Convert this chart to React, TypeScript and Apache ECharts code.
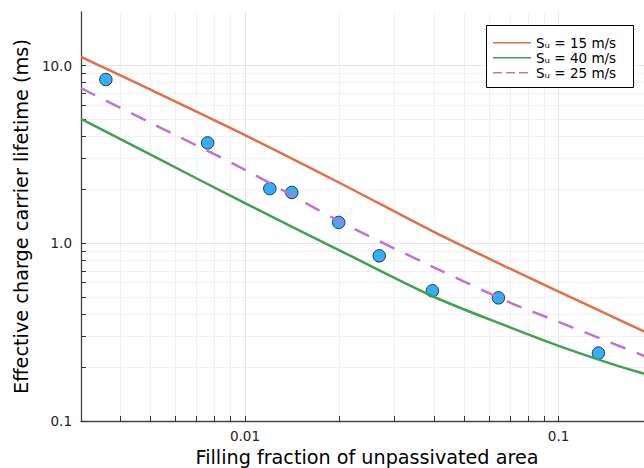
import React, { useEffect, useRef } from "react";
import * as echarts from "echarts";

// Measured samples (filling fraction, effective lifetime in ms)
const fillingFraction = [0.0036, 0.0076, 0.012, 0.0141, 0.0199, 0.0268, 0.0396, 0.0643, 0.134];
const lifetime = [8.34, 3.67, 2.03, 1.93, 1.31, 0.85, 0.54, 0.493, 0.241];

// Model curves, sampled along the filling fraction
const curveX = [0.003, 0.005, 0.01, 0.02, 0.04, 0.07, 0.1, 0.15, 0.19];
const su15 = [11.19, 7.31, 4.06, 2.19, 1.159, 0.72, 0.535, 0.383, 0.315];
const su40 = [5.01, 3.15, 1.68, 0.913, 0.5, 0.336, 0.2646, 0.2076, 0.1833];
const su25 = [7.45, 4.76, 2.59, 1.33, 0.732, 0.464, 0.361, 0.2715, 0.2303];

const seriesNames = ["Sᵤ = 15 m/s", "Sᵤ = 40 m/s", "Sᵤ = 25 m/s"];
const seriesColors = ["#E26F46", "#3DA44D", "#C271D2"];

// Axis ticks
const xMajorTicks = [0.01, 0.1];
const xMajorLabels = ["0.01", "0.1"];
const xMinorTicks = [0.004, 0.005, 0.006, 0.007, 0.008, 0.009, 0.02, 0.03, 0.04, 0.05, 0.06, 0.07, 0.08, 0.09];
const yMajorTicks = [0.1, 1, 10];
const yMajorLabels = ["0.1", "1.0", "10.0"];
const yMinorTicks = [0.2, 0.3, 0.4, 0.5, 0.6, 0.7, 0.8, 0.9, 2, 3, 4, 5, 6, 7, 8, 9];

const xRange = [0.003, 0.2];
const yRange = [0.1, 20];

const L = Math.log10;

function labelFor(ticks: number[], labels: string[]) {
  return (v: number) => {
    const i = ticks.findIndex((t) => Math.abs(L(t) - v) < 1e-6);
    return i >= 0 ? labels[i] : "";
  };
}

const FONT = "DejaVu Sans";

export default function App() {
  const ref = useRef<HTMLDivElement>(null);
  useEffect(() => {
    if (!ref.current) return;
    const chart = echarts.init(ref.current, undefined, { renderer: "svg" });
    const mkLine = (ys: number[]) => curveX.map((x, i) => [L(x), L(ys[i])]);
    const commonX = {
      type: "value" as const,
      min: L(xRange[0]),
      max: L(xRange[1]),
      position: "bottom" as const,
    };
    const commonY = {
      type: "value" as const,
      min: L(yRange[0]),
      max: L(yRange[1]),
      position: "left" as const,
    };

    // Legend drawn as graphic elements (line samples + text in a framed box)
    const legendTop = 42.7;
    const legendStep = 15;
    const legendChildren: any[] = [
      {
        type: "rect",
        z: 100,
        shape: { x: 486.5, y: 25.5, width: 147, height: 62 },
        style: { fill: "#ffffff", stroke: "#000000", lineWidth: 1 },
      },
    ];
    seriesNames.forEach((name, i) => {
      const y = legendTop + i * legendStep;
      legendChildren.push({
        type: "line",
        z: 101,
        shape: { x1: 493, y1: y, x2: 531, y2: y },
        style: {
          stroke: seriesColors[i],
          lineWidth: 1.6,
          lineDash: i === 2 ? [9, 4] : null,
        },
      });
      legendChildren.push({
        type: "text",
        z: 101,
        x: 536,
        y: y,
        style: {
          text: name,
          fill: "#000",
          font: `13.5px "${FONT}"`,
          verticalAlign: "middle",
          align: "left",
        },
      });
    });

    chart.setOption({
      animation: false,
      backgroundColor: "#ffffff",
      grid: {
        left: 81,
        right: 0,
        top: 12,
        bottom: 47,
        containLabel: false,
        outerBoundsMode: "none",
      },
      graphic: [{ type: "group", z: 100, children: legendChildren }],
      xAxis: [
        {
          ...commonX,
          name: "Filling fraction of unpassivated area",
          nameLocation: "middle",
          nameGap: 25,
          nameTextStyle: { fontFamily: FONT, fontSize: 19.2, color: "#000" },
          axisLine: { show: true, onZero: false, lineStyle: { color: "#444", width: 1.3 } },
          axisTick: {
            show: true,
            inside: true,
            length: 5,
            customValues: xMajorTicks.map(L),
            lineStyle: { color: "#333" },
          },
          axisLabel: {
            show: true,
            customValues: xMajorTicks.map(L),
            formatter: labelFor(xMajorTicks, xMajorLabels),
            fontFamily: FONT,
            fontSize: 13.5,
            color: "#222",
            margin: 8,
          },
          splitLine: { show: true, lineStyle: { color: "#e6e6e6", width: 1 } },
        },
        {
          ...commonX,
          axisLine: { show: false, onZero: false },
          axisTick: {
            show: true,
            inside: true,
            length: 5,
            customValues: xMinorTicks.map(L),
            lineStyle: { color: "#333" },
          },
          axisLabel: { show: false },
          splitLine: { show: true, lineStyle: { color: "#f1f1f1", width: 1 } },
        },
      ],
      yAxis: [
        {
          ...commonY,
          name: "Effective charge carrier lifetime (ms)",
          nameLocation: "middle",
          nameGap: 49,
          nameTextStyle: { fontFamily: FONT, fontSize: 19.3, color: "#000" },
          axisLine: { show: true, onZero: false, lineStyle: { color: "#444", width: 1.3 } },
          axisTick: {
            show: true,
            inside: true,
            length: 5,
            customValues: yMajorTicks.map(L),
            lineStyle: { color: "#333" },
          },
          axisLabel: {
            show: true,
            customValues: yMajorTicks.map(L),
            formatter: labelFor(yMajorTicks, yMajorLabels),
            fontFamily: FONT,
            fontSize: 13.5,
            color: "#222",
            margin: 9,
          },
          splitLine: { show: true, lineStyle: { color: "#e6e6e6", width: 1 } },
        },
        {
          ...commonY,
          axisLine: { show: false, onZero: false },
          axisTick: {
            show: true,
            inside: true,
            length: 5,
            customValues: yMinorTicks.map(L),
            lineStyle: { color: "#333" },
          },
          axisLabel: { show: false },
          splitLine: { show: true, lineStyle: { color: "#f1f1f1", width: 1 } },
        },
      ],
      series: [
        {
          name: "data",
          type: "scatter",
          xAxisIndex: 0,
          yAxisIndex: 0,
          symbol: "circle",
          symbolSize: 12.5,
          itemStyle: { color: "#009AFA", borderColor: "#111", borderWidth: 1 },
          data: fillingFraction.map((x, i) => [L(x), L(lifetime[i])]),
        },
        {
          name: seriesNames[0],
          type: "line",
          showSymbol: false,
          symbol: "none",
          smooth: 0.3,
          lineStyle: { color: seriesColors[0], width: 2.5 },
          data: mkLine(su15),
        },
        {
          name: seriesNames[1],
          type: "line",
          showSymbol: false,
          symbol: "none",
          smooth: 0.3,
          lineStyle: { color: seriesColors[1], width: 2.5 },
          data: mkLine(su40),
        },
        {
          name: seriesNames[2],
          type: "line",
          showSymbol: false,
          symbol: "none",
          smooth: 0.3,
          lineStyle: { color: seriesColors[2], width: 2.5, type: [16, 12] },
          data: mkLine(su25),
        },
      ],
    });
    return () => chart.dispose();
  }, []);
  return (
    <div
      style={{
        position: "fixed",
        left: 0,
        top: 0,
        width: 644,
        height: 468,
        overflow: "hidden",
        background: "#fff",
      }}
    >
      <div ref={ref} style={{ width: 653, height: 468 }} />
    </div>
  );
}
